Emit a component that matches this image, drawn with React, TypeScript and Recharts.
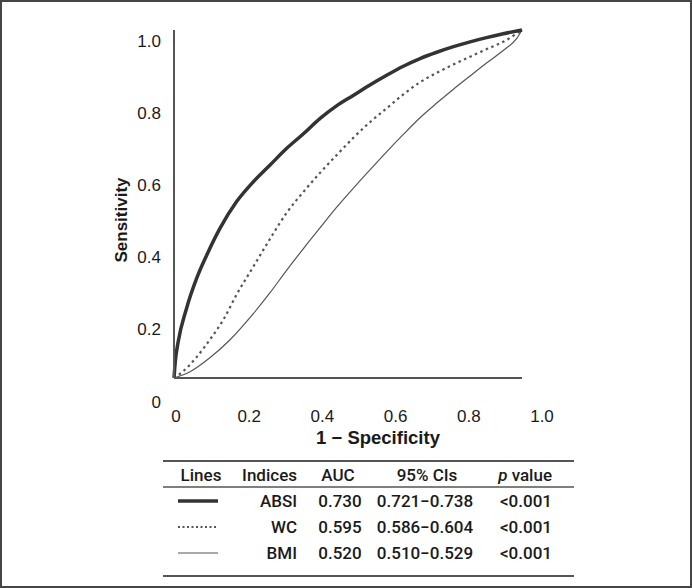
import { LineChart, Line, XAxis, YAxis, Label } from "recharts"

// ROC points (1 - specificity, sensitivity)
const absiFpr = [0, 0.004, 0.012, 0.036, 0.065, 0.094, 0.132, 0.18, 0.228, 0.276, 0.324, 0.372, 0.42, 0.467, 0.515, 0.563, 0.611, 0.659, 0.707, 0.755, 0.803, 0.851, 0.898, 0.946, 1]
const absiTpr = [0, 0.05, 0.104, 0.2, 0.286, 0.353, 0.43, 0.507, 0.564, 0.612, 0.66, 0.702, 0.746, 0.782, 0.812, 0.842, 0.87, 0.896, 0.918, 0.936, 0.952, 0.966, 0.978, 0.989, 1]

const wcFpr = [0, 0.027, 0.065, 0.103, 0.142, 0.18, 0.228, 0.276, 0.324, 0.372, 0.42, 0.467, 0.515, 0.563, 0.611, 0.659, 0.707, 0.755, 0.803, 0.851, 0.898, 0.946, 0.985, 1]
const wcTpr = [0, 0.02, 0.06, 0.11, 0.168, 0.24, 0.32, 0.4, 0.475, 0.535, 0.59, 0.64, 0.69, 0.735, 0.775, 0.815, 0.85, 0.877, 0.901, 0.923, 0.945, 0.966, 0.99, 1]

const bmiFpr = [0, 0.046, 0.103, 0.161, 0.228, 0.276, 0.324, 0.372, 0.42, 0.467, 0.515, 0.563, 0.611, 0.659, 0.707, 0.755, 0.803, 0.851, 0.898, 0.946, 0.985, 1]
const bmiTpr = [0, 0.018, 0.058, 0.11, 0.185, 0.245, 0.31, 0.372, 0.432, 0.49, 0.545, 0.598, 0.65, 0.7, 0.748, 0.79, 0.83, 0.868, 0.905, 0.941, 0.976, 1]

const axisTicks = [0, 0.2, 0.4, 0.6, 0.8, 1.0]

// table below the plot
const tableHeaders = ["Lines", "Indices", "AUC", "95% CIs", "p value"]
const indices = ["ABSI", "WC", "BMI"]
const aucValues = ["0.730", "0.595", "0.520"]
const ciValues = ["0.721−0.738", "0.586−0.604", "0.510−0.529"]
const pValues = ["<0.001", "<0.001", "<0.001"]

const toPoints = (fpr: number[], tpr: number[]) => fpr.map((f, i) => ({ fpr: f, tpr: tpr[i] }))
const absiData = toPoints(absiFpr, absiTpr)
const wcData = toPoints(wcFpr, wcTpr)
const bmiData = toPoints(bmiFpr, bmiTpr)

const lineStyles = [
  { stroke: "#333", width: 3.5, dash: undefined as string | undefined },
  { stroke: "#555", width: 2.2, dash: "2.5 3.5" },
  { stroke: "#555", width: 1.2, dash: undefined as string | undefined },
]

const font = "'Liberation Sans', Arial, sans-serif"
const tableFont = "Roboto, 'Liberation Sans', sans-serif"
const fmt = (v: number) => (v === 0 ? "0" : v.toFixed(1))

function YTick(props: any) {
  const { x, y, payload } = props
  const v = payload.value
  // the printed labels drift away from the axis scale in the source figure
  return (
    <text x={x} y={y + 24 - 13 * v} textAnchor="end" dominantBaseline="central" fontSize={17} fontFamily={font} fill="#1a1a1a">
      {fmt(v)}
    </text>
  )
}

function XTick(props: any) {
  const { x, y, payload } = props
  const v = payload.value
  return (
    <text x={x + 2 + 18 * v} y={y} textAnchor="middle" dominantBaseline="central" fontSize={17} fontFamily={font} fill="#1a1a1a">
      {fmt(v)}
    </text>
  )
}

function ResultsTable() {
  const left = 163
  const right = 574
  const rowY = [501, 527, 553]
  const txt = { fontFamily: tableFont, fontSize: 17, fontWeight: 500, fill: "#1a1a1a", dominantBaseline: "central" as const }
  return (
    <svg width={692} height={588} style={{ position: "absolute", left: 0, top: 0, pointerEvents: "none" }}>
      <line x1={left} x2={right} y1={461} y2={461} stroke="#555" strokeWidth={2} />
      <line x1={left} x2={right} y1={487} y2={487} stroke="#555" strokeWidth={1.5} />
      <line x1={left} x2={right} y1={576} y2={576} stroke="#555" strokeWidth={2} />
      <text x={201} y={475} textAnchor="middle" {...txt}>{tableHeaders[0]}</text>
      <text x={297} y={475} textAnchor="end" {...txt}>{tableHeaders[1]}</text>
      <text x={338} y={475} textAnchor="middle" {...txt}>{tableHeaders[2]}</text>
      <text x={427} y={475} textAnchor="middle" {...txt}>{tableHeaders[3]}</text>
      <text x={552} y={475} textAnchor="end" {...txt}>
        <tspan fontStyle="italic">p</tspan> value
      </text>
      {indices.map((name, i) => (
        <g key={name}>
          <line
            x1={178}
            x2={218}
            y1={rowY[i]}
            y2={rowY[i]}
            stroke={lineStyles[i].stroke}
            strokeWidth={lineStyles[i].width}
            strokeDasharray={i === 1 ? "2 2.5" : undefined}
          />
          <text x={297} y={rowY[i]} textAnchor="end" {...txt}>{name}</text>
          <text x={340} y={rowY[i]} textAnchor="middle" {...txt}>{aucValues[i]}</text>
          <text x={425} y={rowY[i]} textAnchor="middle" {...txt}>{ciValues[i]}</text>
          <text x={552} y={rowY[i]} textAnchor="end" {...txt}>{pValues[i]}</text>
        </g>
      ))}
    </svg>
  )
}

export default function App() {
  return (
    <div
      style={{
        position: "absolute",
        left: 0,
        top: 0,
        width: 692,
        height: 588,
        background: "#fff",
        border: "2px solid #464646",
        boxSizing: "border-box",
      }}
    >
      <div style={{ position: "absolute", left: -2, top: -2 }}>
        <LineChart width={692} height={588} margin={{ top: 30, right: 170, bottom: 150, left: 114 }}>
          <XAxis
            dataKey="fpr"
            type="number"
            domain={[0, 1]}
            ticks={axisTicks}
            height={60}
            tickLine={false}
            tickMargin={32}
            tick={<XTick />}
            axisLine={{ stroke: "#555", strokeWidth: 2 }}
          >
            <Label
              content={(p: any) => {
                const vb = p.viewBox
                return (
                  <text x={vb.x + vb.width / 2 + 30} y={vb.y + 59} textAnchor="middle" dominantBaseline="central" fontSize={18.5} fontWeight="bold" fontFamily={font} fill="#1a1a1a">
                    1 − Specificity
                  </text>
                )
              }}
            />
          </XAxis>
          <YAxis
            type="number"
            domain={[0, 1]}
            ticks={axisTicks}
            width={60}
            tickLine={false}
            tickMargin={7}
            tick={<YTick />}
            axisLine={{ stroke: "#555", strokeWidth: 2 }}
          >
            <Label
              content={(p: any) => {
                const vb = p.viewBox
                const cx = vb.x + 7
                const cy = vb.y + vb.height / 2 + 16
                return (
                  <text x={cx} y={cy} transform={`rotate(-90 ${cx} ${cy})`} textAnchor="middle" dominantBaseline="central" fontSize={17} fontWeight="bold" fontFamily={font} fill="#1a1a1a">
                    Sensitivity
                  </text>
                )
              }}
            />
          </YAxis>
          <Line data={bmiData} dataKey="tpr" type="monotone" stroke={lineStyles[2].stroke} strokeWidth={lineStyles[2].width} dot={false} isAnimationActive={false} />
          <Line data={wcData} dataKey="tpr" type="monotone" stroke={lineStyles[1].stroke} strokeWidth={lineStyles[1].width} strokeDasharray={lineStyles[1].dash} dot={false} isAnimationActive={false} />
          <Line data={absiData} dataKey="tpr" type="monotone" stroke={lineStyles[0].stroke} strokeWidth={lineStyles[0].width} dot={false} isAnimationActive={false} />
        </LineChart>
      </div>
      <div style={{ position: "absolute", left: -2, top: -2 }}>
        <ResultsTable />
      </div>
    </div>
  )
}
